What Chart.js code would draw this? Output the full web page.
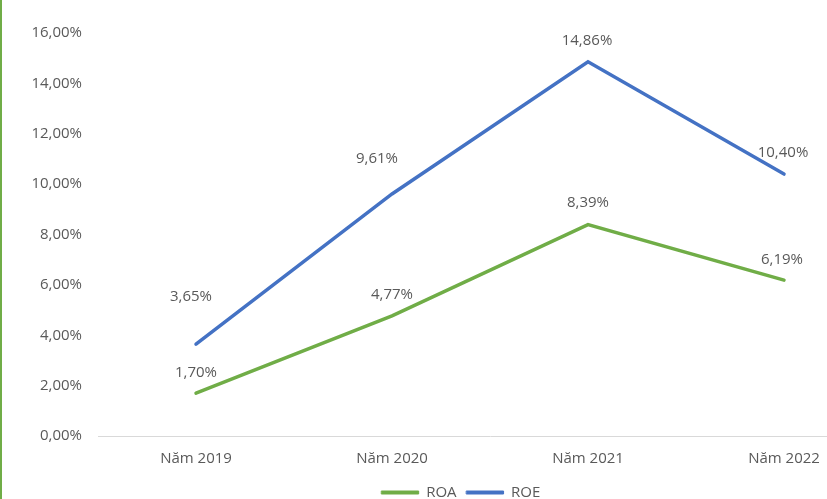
<!DOCTYPE html>
<html>
<head>
<meta charset="utf-8">
<script src="https://cdn.jsdelivr.net/npm/chart.js@4.4.1/dist/chart.umd.min.js"></script>
<style>
  html, body { margin: 0; padding: 0; background: #ffffff; }
  #frame { position: relative; width: 827px; height: 499px; overflow: hidden; background: #ffffff; }
  #edge { position: absolute; left: 0; top: 0; width: 2px; height: 499px; background: #70ad47; }
  #c { position: absolute; left: 0; top: 0; }
</style>
</head>
<body>
<div id="frame">
  <canvas id="c" width="922" height="499"></canvas>
  <div id="edge"></div>
</div>
<script>
// Categories and series (percent values)
const years = ['Năm 2019', 'Năm 2020', 'Năm 2021', 'Năm 2022'];
const roa = [1.70, 4.77, 8.39, 6.19];
const roe = [3.65, 9.61, 14.86, 10.40];
const yTicks = [0, 2, 4, 6, 8, 10, 12, 14, 16];

const GREEN = '#70ad47';
const BLUE = '#4472c4';
const TEXT = '#595959';
const FONT = '"Open Sans", Lato, sans-serif';

const pct = v => v.toFixed(2).replace('.', ',') + '%';

// Draws the value label above each point of each line
const valueLabels = {
  id: 'valueLabels',
  afterDatasetsDraw(chart, args, opts) {
    const ctx = chart.ctx;
    ctx.save();
    ctx.font = '15px ' + FONT;
    ctx.fillStyle = TEXT;
    ctx.textAlign = 'center';
    ctx.textBaseline = 'middle';
    chart.data.datasets.forEach((ds, di) => {
      const meta = chart.getDatasetMeta(di);
      const shift = opts.shift[di];
      meta.data.forEach((pt, i) => {
        ctx.fillText(pct(ds.data[i]), pt.x + shift[i][0], pt.y - shift[i][1]);
      });
    });
    ctx.restore();
  }
};

new Chart(document.getElementById('c'), {
  type: 'line',
  data: {
    labels: years,
    datasets: [
      { label: 'ROA', data: roa, borderColor: GREEN, backgroundColor: GREEN,
        borderWidth: 3.5, pointRadius: 0, tension: 0, borderCapStyle: 'round', yAxisID: 'y' },
      { label: 'ROE', data: roe, borderColor: BLUE, backgroundColor: BLUE,
        borderWidth: 3.5, pointRadius: 0, tension: 0, borderCapStyle: 'round', yAxisID: 'y' }
    ]
  },
  options: {
    responsive: false,
    devicePixelRatio: 1,
    animation: false,
    layout: { padding: { top: 33, left: 0, right: 0, bottom: -11 } },
    scales: {
      x: {
        type: 'category',
        offset: true,
        afterFit: s => { s.height -= 7; },
        grid: { display: false, drawTicks: false },
        border: { display: true, color: '#d9d9d9', width: 1 },
        ticks: { color: TEXT, font: { family: FONT, size: 15 }, padding: 14, maxRotation: 0 }
      },
      y: {
        min: 0, max: 16,
        afterBuildTicks: s => { s.ticks = yTicks.map(v => ({ value: v })); },
        afterFit: s => { s.width = 98; },
        grid: { display: false, drawTicks: false },
        border: { display: false },
        ticks: { color: TEXT, font: { family: FONT, size: 15 }, padding: 16, callback: v => pct(v) }
      },
      yR: {
        position: 'right',
        min: 0, max: 16,
        afterFit: s => { s.width = 40; },
        grid: { display: false, drawTicks: false },
        border: { display: false },
        ticks: { display: false }
      }
    },
    plugins: {
      tooltip: { enabled: false },
      legend: {
        position: 'bottom',
        labels: {
          color: TEXT,
          font: { family: FONT, size: 15 },
          boxWidth: 37,
          boxHeight: 3,
          padding: 10,
          generateLabels: chart => Chart.defaults.plugins.legend.labels.generateLabels(chart)
            .map(l => Object.assign(l, { lineWidth: 1 }))
        }
      },
      valueLabels: {
        shift: [
          [[0, 20], [0, 21], [0, 22], [-2, 20]],
          [[-5, 47], [-15, 35], [-1, 21], [-1, 21]]
        ]
      }
    }
  },
  plugins: [valueLabels]
});
</script>
</body>
</html>
